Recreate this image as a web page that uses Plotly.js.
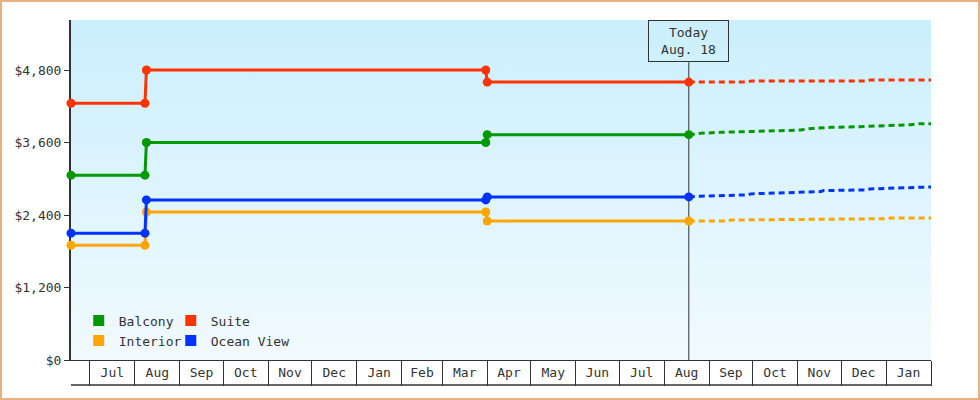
<!DOCTYPE html>
<html>
<head>
<meta charset="utf-8">
<script src="https://cdn.plot.ly/plotly-3.0.1.min.js"></script>
<style>
  body { margin: 0; background: #fff; }
  #wrap { position: relative; width: 980px; height: 400px; }
  #chart { width: 980px; height: 400px; }
  #frame { position: absolute; left: 0; top: 0; width: 980px; height: 400px;
           box-sizing: border-box; border: 2px solid #e8b07a; pointer-events: none; }
</style>
</head>
<body>
<div id="wrap">
  <div id="chart"></div>
  <div id="frame"></div>
</div>
<script>
// history: price steps up to today
var histDates = ['2017-06-18', '2017-08-08', '2017-08-09', '2018-03-31', '2018-04-01', '2018-08-18'];
var balconyHist = [3060, 3060, 3600, 3600, 3730, 3730];
var suiteHist = [4250, 4250, 4800, 4800, 4600, 4600];
var oceanHist = [2100, 2100, 2650, 2650, 2700, 2700];
var interiorHist = [1900, 1900, 2450, 2450, 2300, 2300];

// forecast after today
var balconyFcDates = ['2018-08-18', '2018-08-26', '2018-09-09', '2018-10-07', '2018-10-20', '2018-11-03',
                      '2018-11-09', '2018-11-24', '2018-12-14', '2019-01-18', '2019-01-24', '2019-02-01'];
var balconyFc = [3730, 3752, 3769, 3780, 3796, 3807, 3829, 3851, 3862, 3895, 3912, 3912];
var suiteFcDates = ['2018-08-18', '2018-09-27', '2018-09-30', '2018-12-19', '2018-12-21', '2019-02-01'];
var suiteFc = [4600, 4600, 4617, 4617, 4633, 4633];
var oceanFcDates = ['2018-08-18', '2018-08-26', '2018-09-27', '2018-09-30', '2018-11-17', '2018-11-19',
                    '2018-12-19', '2018-12-21', '2019-02-01'];
var oceanFc = [2700, 2711, 2733, 2750, 2788, 2805, 2816, 2832, 2865];
var interiorFcDates = ['2018-08-18', '2018-09-13', '2018-09-16', '2018-11-08', '2018-11-10',
                       '2019-01-02', '2019-01-04', '2019-02-01'];
var interiorFc = [2300, 2300, 2317, 2322, 2333, 2339, 2350, 2350];

var yTicks = [0, 1200, 2400, 3600, 4800];
var yTickText = yTicks.map(function (v) { return '$' + v.toLocaleString('en-US'); });
var today = '2018-08-18';
var todayLabel = 'Today<br>Aug. 18';

// legend slots: 2 columns x 2 rows
var series = [
    {name: 'Balcony', color: '#009900', hist: balconyHist, fcX: balconyFcDates, fc: balconyFc, legend: 'legend'},
    {name: 'Suite', color: '#ff3300', hist: suiteHist, fcX: suiteFcDates, fc: suiteFc, legend: 'legend2'},
    {name: 'Interior', color: '#ffa500', hist: interiorHist, fcX: interiorFcDates, fc: interiorFc, legend: 'legend3'},
    {name: 'Ocean View', color: '#0033ff', hist: oceanHist, fcX: oceanFcDates, fc: oceanFc, legend: 'legend4'}
];

var font = {family: 'DejaVu Sans Mono', size: 13, color: '#333'};

var traces = [];
// draw order: interior, ocean, balcony, suite (blue above orange)
[2, 3, 0, 1].forEach(function (i) {
    var s = series[i];
    traces.push({
        x: s.fcX, y: s.fc, type: 'scatter', mode: 'lines',
        line: {color: s.color, width: 3, dash: '6px,4px'},
        showlegend: false, hoverinfo: 'skip'
    });
    traces.push({
        x: histDates, y: s.hist, type: 'scatter', mode: 'lines+markers',
        line: {color: s.color, width: 3},
        marker: {color: s.color, size: 9, symbol: 'circle'},
        cliponaxis: false, showlegend: false
    });
});
// legend entries with square swatches
series.forEach(function (s) {
    traces.push({
        x: [null], y: [null], type: 'scatter', mode: 'markers', name: s.name,
        marker: {color: s.color, size: 11, symbol: 'square'},
        legend: s.legend
    });
});

var bg = "<svg xmlns='http://www.w3.org/2000/svg' width='10' height='100' preserveAspectRatio='none'>" +
    "<defs><linearGradient id='g' x1='0' y1='0' x2='0' y2='1'>" +
    "<stop offset='0' stop-color='#cbeffd'/><stop offset='1' stop-color='#f1faff'/></linearGradient></defs>" +
    "<rect width='10' height='100' fill='url(#g)'/></svg>";

function legendAt(x, y) {
    return {orientation: 'h', x: x, xanchor: 'left', y: y, yanchor: 'middle',
            bgcolor: 'rgba(0,0,0,0)', font: font};
}

var layout = {
    width: 980,
    height: 400,
    margin: {l: 71, r: 49, t: 20, b: 40, pad: 0},
    paper_bgcolor: '#ffffff',
    plot_bgcolor: 'rgba(0,0,0,0)',
    font: font,
    hovermode: false,
    images: [{
        source: 'data:image/svg+xml;charset=utf-8,' + encodeURIComponent(bg),
        xref: 'paper', yref: 'paper', x: 0, y: 1, sizex: 1, sizey: 1,
        xanchor: 'left', yanchor: 'top', sizing: 'stretch', layer: 'below'
    }],
    xaxis: {
        type: 'date',
        range: ['2017-06-18', '2019-02-01'],
        tick0: '2017-07-01',
        dtick: 'M1',
        tickformat: '%b',
        ticklabelmode: 'period',
        ticks: 'outside',
        ticklen: 25,
        tickwidth: 1,
        tickcolor: '#333',
        ticklabelstandoff: -25,
        showline: true,
        linecolor: '#333',
        linewidth: 1,
        showgrid: false,
        zeroline: false,
        tickfont: font,
        layer: 'below traces'
    },
    yaxis: {
        range: [0, 5628],
        tickvals: yTicks,
        ticktext: yTickText,
        ticks: 'outside',
        ticklen: 5,
        tickwidth: 1,
        tickcolor: '#333',
        showline: true,
        linecolor: '#333',
        linewidth: 2,
        showgrid: false,
        zeroline: false,
        tickfont: font,
        layer: 'below traces'
    },
    legend: legendAt(0.009, 0.116),
    legend2: legendAt(0.116, 0.116),
    legend3: legendAt(0.009, 0.057),
    legend4: legendAt(0.116, 0.057),
    shapes: [
        {type: 'line', xref: 'x', yref: 'paper', x0: today, x1: today, y0: 0, y1: 0.876,
         line: {color: '#333', width: 1}, layer: 'below'},
        {type: 'line', xref: 'paper', yref: 'paper', x0: 0, x1: 1, y0: -0.0735, y1: -0.0735,
         line: {color: '#333', width: 1.5}}
    ],
    annotations: [{
        x: today, xref: 'x', y: 1, yref: 'paper', yanchor: 'top',
        text: todayLabel, showarrow: false, font: font,
        width: 75, height: 36, borderpad: 2,
        bordercolor: '#333', borderwidth: 1, bgcolor: 'rgba(0,0,0,0)'
    }]
};

Plotly.newPlot('chart', traces, layout, {displayModeBar: false, staticPlot: true});
</script>
</body>
</html>
